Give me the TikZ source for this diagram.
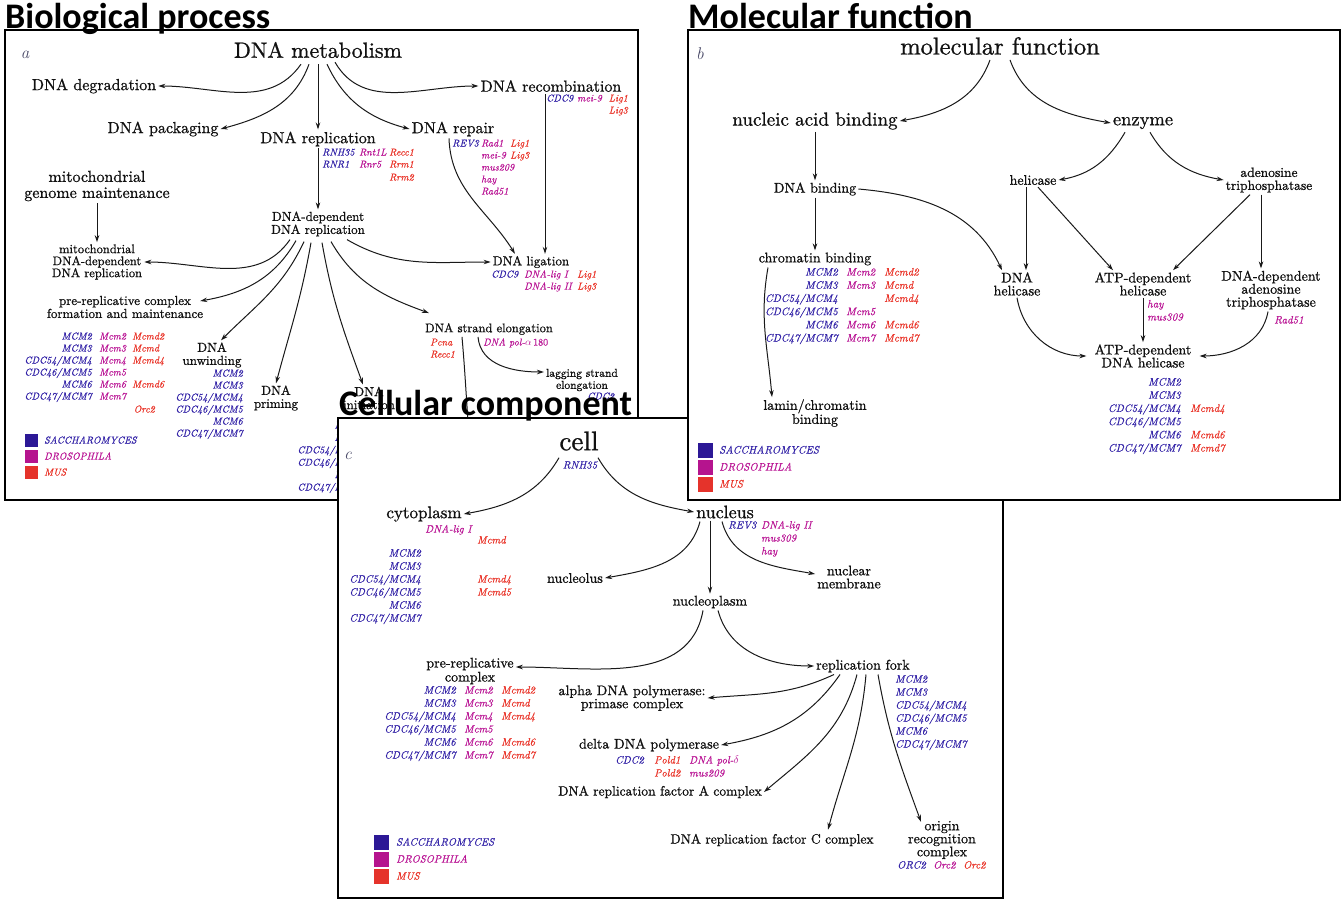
\documentclass[tikz,border=0pt]{standalone}
\usepackage{fontspec}
\newfontfamily\titlefont{Carlito}
\newfontfamily\labfont{lmroman10-regular.otf}[FakeBold=0.9]
\newfontfamily\genefont{lmroman10-italic.otf}[FakeBold=0.5]
\usetikzlibrary{arrows.meta}
\definecolor{cb}{HTML}{3424A8}
\definecolor{cm}{HTML}{BA1595}
\definecolor{cr}{HTML}{EA3328}
\definecolor{sqb}{HTML}{2C1896}
\definecolor{sqm}{HTML}{B5148E}
\definecolor{sqr}{HTML}{E5332B}
\definecolor{lbl}{HTML}{111111}
\definecolor{pletter}{HTML}{4A4A68}
\newcommand\fsz[1]{\fontsize{#1}{#1}\selectfont}
\newcommand\fss[2]{\fontsize{#1}{#2}\selectfont}
\def\gsz{10}
\tikzset{
  lbla/.style={inner sep=2pt, align=center, text=lbl, execute at begin node=\labfont},
  gene/.style={inner sep=0pt, text height=7pt, text depth=0pt, font=\fsz{\gsz}\genefont},
  gb/.style={gene, text=cb},
  gm/.style={gene, text=cm},
  gr/.style={gene, text=cr},
  arr/.style={draw=black!90, line width=1pt, -{Stealth[length=7pt,width=4.5pt]}},
  panel/.style={draw=black, line width=1.5pt, fill=white},
  ttl/.style={font=\titlefont\bfseries\fsz{36}, anchor=base west, inner sep=0pt},
  pl/.style={font=\fsz{17}\itshape, text=pletter},
  sq/.style={minimum size=#1, inner sep=0pt},
}
\begin{document}
\begin{tikzpicture}[x=1pt,y=-1pt]
\useasboundingbox (0,0) rectangle (1344,900);
\fill[white] (0,0) rectangle (1344,900);

%% ================= Panel a =================
\draw[panel] (5,30) rectangle (638,500);
\node[pl] (pa) at (25,55) {a};
\node[lbla,font=\fsz{22}] (meta) at (318,50) {DNA metabolism};
\node[lbla,font=\fsz{16}] (degr) at (94,86) {DNA degradation};
\node[lbla,font=\fsz{16}] (pack) at (163,129) {DNA packaging};
\node[lbla,font=\fsz{16}] (repl) at (318,139) {DNA replication};
\node[lbla,font=\fsz{16}] (repair) at (453,129) {DNA repair};
\node[lbla,font=\fsz{16}] (recomb) at (551,86) {DNA recombination};
\node[lbla,font=\fsz{16}] (mgm) at (97,186) {mitochondrial\\genome maintenance};
\node[lbla,font=\fss{12.5}{12}] (mddr) at (97,262) {mitochondrial\\DNA-dependent\\DNA replication};
\node[lbla,font=\fsz{13}] (ddr) at (318,224) {DNA-dependent\\DNA replication};
\node[lbla,font=\fsz{13}] (prc) at (125,307) {pre-replicative complex\\formation and maintenance};
\node[lbla,font=\fsz{13}] (lig) at (531,262) {DNA ligation};
\node[lbla,font=\fsz{12.5}] (elong) at (489,329) {DNA strand elongation};
\node[lbla,font=\fss{11.5}{12}] (lag) at (582,380) {lagging strand\\elongation};
\node[lbla,font=\fsz{13}] (unw) at (212,355) {DNA\\unwinding};
\node[lbla,font=\fsz{13}] (prim) at (276,398) {DNA\\priming};
\node[lbla,font=\fsz{13}] (init) at (369,398) {DNA\\initiation};

\draw[arr] ([xshift=-17pt,yshift=-4pt]meta.south) to[out=235,in=0] (degr.east);
\draw[arr] ([xshift=-9pt,yshift=-4pt]meta.south) to[out=250,in=15] (pack.east);
\draw[arr] ([yshift=-4pt]meta.south) -- (repl.north);
\draw[arr] ([xshift=9pt,yshift=-4pt]meta.south) to[out=295,in=165] (repair.west);
\draw[arr] ([xshift=17pt,yshift=-2pt]meta.south) to[out=300,in=180] (recomb.west);
\draw[arr] (repl.south) -- (ddr.north);
\draw[arr] (mgm.south) -- (mddr.north);
\draw[arr] ([xshift=-28pt,yshift=-1pt]ddr.south) to[out=235,in=0] (mddr.east);
\draw[arr] ([xshift=-22pt,yshift=-2pt]ddr.south) to[out=240,in=10] ([xshift=-5pt,yshift=6pt]prc.east);
\draw[arr] ([xshift=-14pt,yshift=-3pt]ddr.south) to[out=245,in=45] ([xshift=9pt]unw.north);
\draw[arr] ([xshift=-7pt,yshift=-4pt]ddr.south) to[out=260,in=75] (prim.north);
\draw[arr] ([xshift=4pt,yshift=-4pt]ddr.south) to[out=280,in=110] ([xshift=-6pt]init.north);
\draw[arr] ([xshift=13pt,yshift=-3pt]ddr.south) to[out=300,in=160] ([xshift=6pt,yshift=8pt]elong.north west);
\draw[arr] ([xshift=29pt,yshift=-1pt]ddr.south) to[out=330,in=180] (lig.west);
\draw[arr] ([xshift=-4pt]repair.south) to[out=272,in=122] ([xshift=-16pt]lig.north);
\draw[arr] ([xshift=-6pt]recomb.south) -- ([xshift=-6pt]recomb.south |- lig.north);
\coordinate (hid) at (470,445);
\draw[arr] ([xshift=-27pt]elong.south) to[out=275,in=95] (hid);
\draw[arr] ([xshift=-11pt]elong.south) to[out=275,in=180] ([yshift=8pt]lag.west);

\def\gsz{10}
% recombination
\node[gb,anchor=west] (arc1) at (546,98) {CDC9};
\node[gm,anchor=west] (arc2) at (577,98) {mei-9};
\node[gr,anchor=east] (arc3) at (628,98) {Lig1};
\node[gr,anchor=east] (arc4) at (628,110) {Lig3};
% repair
\node[gb,anchor=west] (arp1) at (452,143) {REV3};
\node[gm,anchor=west] (arp2) at (481,143) {Rad1};
\node[gr,anchor=west] (arp3) at (510,143) {Lig1};
\node[gm,anchor=west] (arp4) at (481,155) {mei-9};
\node[gr,anchor=west] (arp5) at (510,155) {Lig3};
\node[gm,anchor=west] (arp6) at (481,167) {mus209};
\node[gm,anchor=west] (arp7) at (481,179) {hay};
\node[gm,anchor=west] (arp8) at (481,191) {Rad51};
% replication
\node[gb,anchor=west] (are1) at (322,152) {RNH35};
\node[gb,anchor=west] (are2) at (322,164) {RNR1};
\node[gm,anchor=west] (are3) at (359,152) {Rnt1L};
\node[gm,anchor=west] (are4) at (359,164) {Rnr5};
\node[gr,anchor=west] (are5) at (389,152) {Recc1};
\node[gr,anchor=west] (are6) at (389,164) {Rrm1};
\node[gr,anchor=west] (are7) at (389,177) {Rrm2};
% ligation
\node[gb,anchor=west] (ali1) at (491,274) {CDC9};
\node[gm,anchor=west] (ali2) at (524,274) {DNA-lig I};
\node[gr,anchor=west] (ali3) at (577,274) {Lig1};
\node[gm,anchor=west] (ali4) at (524,286) {DNA-lig II};
\node[gr,anchor=west] (ali5) at (577,286) {Lig3};
% elongation
\node[gr,anchor=west] (ael1) at (430,342) {Pcna};
\node[gr,anchor=west] (ael2) at (430,354) {Recc1};
\node[gm,anchor=west] (ael3) at (483,342) {DNA pol-$\alpha$\,{\labfont 180}};
\node[gb,anchor=west] (ala1) at (587,396) {CDC2};
% unwinding
\foreach \gname [count=\i] in {MCM2,MCM3,CDC54/MCM4,CDC46/MCM5,MCM6,CDC47/MCM7}
  \node[gb,anchor=east] (aun\i) at (243,{373+12*(\i-1)}) {\gname};
% pre-replicative
\foreach \gname [count=\i] in {MCM2,MCM3,CDC54/MCM4,CDC46/MCM5,MCM6,CDC47/MCM7}
  \node[gb,anchor=east] (apb\i) at (92,{336+12*(\i-1)}) {\gname};
\foreach \gname [count=\i] in {Mcm2,Mcm3,Mcm4,Mcm5,Mcm6,Mcm7}
  \node[gm,anchor=west] (apm\i) at (99,{336+12*(\i-1)}) {\gname};
\foreach \gname/\i in {Mcmd2/1,Mcmd/2,Mcmd4/3,Mcmd6/5}
  \node[gr,anchor=west] (apr\i) at (132,{336+12*(\i-1)}) {\gname};
\node[gr,anchor=east] (aorc) at (155,409) {Orc2};
% initiation (mostly hidden)
\foreach \gname [count=\i] in {MCM2,MCM3,CDC54/MCM4,CDC46/MCM5,MCM6,CDC47/MCM7}
  \node[gb,anchor=east] (ain\i) at (365,{425+12.4*(\i-1)}) {\gname};
% legend a
\node[sq=13pt,fill=sqb] (las1) at (31,440) {};
\node[sq=13pt,fill=sqm] (las2) at (31,456) {};
\node[sq=13pt,fill=sqr] (las3) at (31,472) {};
\node[gb,anchor=west] (lat1) at (44,440) {SACCHAROMYCES};
\node[gm,anchor=west] (lat2) at (44,456) {DROSOPHILA};
\node[gr,anchor=west] (lat3) at (44,472) {MUS};

\node[ttl] (ta) at (5,28) {Biological process};

%% ================= Panel c =================
\draw[panel] (338,418) rectangle (1003,898);
\node[pl] (pc) at (348,456) {c};
\node[lbla,font=\fsz{27}] (cell) at (579,441) {cell};
\node[lbla,font=\fsz{17}] (cyto) at (424,514) {cytoplasm};
\node[lbla,font=\fsz{18}] (nucl) at (725,512) {nucleus};
\node[lbla,font=\fsz{14}] (nucleo) at (575,578) {nucleolus};
\node[lbla,font=\fsz{14}] (nplasm) at (710,602) {nucleoplasm};
\node[lbla,font=\fss{14}{13}] (memb) at (849,577) {nuclear\\membrane};
\node[lbla,font=\fss{14}{14}] (cprc) at (470,671) {pre-replicative\\complex};
\node[lbla,font=\fsz{14}] (fork) at (863,666) {replication fork};
\node[lbla,font=\fss{14}{13}] (alpha) at (632,698) {alpha DNA polymerase:\\primase complex};
\node[lbla,font=\fsz{14}] (delta) at (649,745) {delta DNA polymerase};
\node[lbla,font=\fsz{13.5}] (facA) at (660,792) {DNA replication factor A complex};
\node[lbla,font=\fsz{13.5}] (facC) at (772,840) {DNA replication factor C complex};
\node[lbla,font=\fss{14}{13}] (orc) at (942,840) {origin\\recognition\\complex};

\draw[arr] ([xshift=-20pt,yshift=-5pt]cell.south) to[out=240,in=10] (cyto.east);
\draw[arr] ([xshift=19pt,yshift=-5pt]cell.south) to[out=300,in=170] (nucl.west);
\draw[arr] ([xshift=-25pt,yshift=-1pt]nucl.south) to[out=255,in=10] (nucleo.east);
\draw[arr] ([xshift=-15pt]nucl.south) -- ([xshift=-15pt]nucl.south |- nplasm.north);
\draw[arr] ([xshift=-3pt,yshift=-1pt]nucl.south) to[out=285,in=170] ([yshift=3pt]memb.west);
\draw[arr] ([xshift=-7pt]nplasm.south) to[out=260,in=0] ([yshift=4pt]cprc.east);
\draw[arr] ([xshift=8pt]nplasm.south) to[out=285,in=180] (fork.west);
\draw[arr] ([xshift=-29pt]fork.south) to[out=205,in=5] (alpha.east);
\draw[arr] ([xshift=-23pt]fork.south) to[out=235,in=10] (delta.east);
\draw[arr] ([xshift=-6pt]fork.south) to[out=255,in=40] (facA.east);
\draw[arr] ([xshift=3pt]fork.south) to[out=265,in=75] ([xshift=56pt,yshift=2pt]facC.north);
\draw[arr] ([xshift=15pt]fork.south) to[out=280,in=110] ([xshift=-21pt,yshift=-3pt]orc.north);

\def\gsz{10.6}
\node[gb] (crnh) at (580,465) {RNH35};
\node[gm,anchor=west] (ccy1) at (425,529) {DNA-lig I};
\node[gr,anchor=west] (ccy2) at (477,540) {Mcmd};
\foreach \gname [count=\i] in {MCM2,MCM3,CDC54/MCM4,CDC46/MCM5,MCM6,CDC47/MCM7}
  \node[gb,anchor=east] (ccb\i) at (421,{553+13*(\i-1)}) {\gname};
\node[gr,anchor=west] (ccy3) at (477,579) {Mcmd4};
\node[gr,anchor=west] (ccy4) at (477,592) {Mcmd5};
\node[gb,anchor=west] (cnu1) at (728,525) {REV3};
\node[gm,anchor=west] (cnu2) at (761,525) {DNA-lig II};
\node[gm,anchor=west] (cnu3) at (761,538) {mus309};
\node[gm,anchor=west] (cnu4) at (761,551) {hay};
\foreach \gname [count=\i] in {MCM2,MCM3,CDC54/MCM4,CDC46/MCM5,MCM6,CDC47/MCM7}
  \node[gb,anchor=east] (cpb\i) at (456,{690+13*(\i-1)}) {\gname};
\foreach \gname [count=\i] in {Mcm2,Mcm3,Mcm4,Mcm5,Mcm6,Mcm7}
  \node[gm,anchor=west] (cpm\i) at (464,{690+13*(\i-1)}) {\gname};
\foreach \gname/\i in {Mcmd2/1,Mcmd/2,Mcmd4/3,Mcmd6/5,Mcmd7/6}
  \node[gr,anchor=west] (cpr\i) at (501,{690+13*(\i-1)}) {\gname};
\foreach \gname [count=\i] in {MCM2,MCM3,CDC54/MCM4,CDC46/MCM5,MCM6,CDC47/MCM7}
  \node[gb,anchor=west] (cfb\i) at (895,{679+13*(\i-1)}) {\gname};
\node[gb,anchor=west] (cde1) at (615,760) {CDC2};
\node[gr,anchor=west] (cde2) at (654,760) {Pold1};
\node[gm,anchor=west] (cde3) at (689,760) {DNA pol-$\delta$};
\node[gr,anchor=west] (cde4) at (654,773) {Pold2};
\node[gm,anchor=west] (cde5) at (689,773) {mus209};
\node[gb,anchor=west] (cor1) at (897,865) {ORC2};
\node[gm,anchor=west] (cor2) at (933,865) {Orc2};
\node[gr,anchor=west] (cor3) at (963,865) {Orc2};
% legend c
\node[sq=15pt,fill=sqb] (lcs1) at (381,842) {};
\node[sq=15pt,fill=sqm] (lcs2) at (381,859) {};
\node[sq=15pt,fill=sqr] (lcs3) at (381,876) {};
\node[gb,anchor=west] (lct1) at (396,842) {SACCHAROMYCES};
\node[gm,anchor=west] (lct2) at (396,859) {DROSOPHILA};
\node[gr,anchor=west] (lct3) at (396,876) {MUS};

\node[ttl] (tc) at (339,415) {Cellular component};

%% ================= Panel b =================
\draw[panel] (688,30) rectangle (1340,500);
\node[pl] (pb) at (700,54) {b};
\node[lbla,font=\fsz{24.5}] (mf) at (1000,46) {molecular function};
\node[lbla,font=\fsz{19}] (nab) at (815,121) {nucleic acid binding};
\node[lbla,font=\fsz{18.5}] (enz) at (1143,123) {enzyme};
\node[lbla,font=\fsz{14}] (dnab) at (815,189) {DNA binding};
\node[lbla,font=\fsz{14}] (hel) at (1033,180) {helicase};
\node[lbla,font=\fss{13.5}{13}] (atpase) at (1269,180) {adenosine\\triphosphatase};
\node[lbla,font=\fsz{14}] (chrb) at (815,259) {chromatin binding};
\node[lbla,font=\fss{14}{13}] (dnahel) at (1017,284) {DNA\\helicase};
\node[lbla,font=\fss{14}{13}] (atph) at (1143,284) {ATP-dependent\\helicase};
\node[lbla,font=\fss{14}{13}] (dnaatp) at (1271,290) {DNA-dependent\\adenosine\\triphosphatase};
\node[lbla,font=\fss{14}{13}] (atpdh) at (1143,356) {ATP-dependent\\DNA helicase};
\node[lbla,font=\fss{14}{14}] (lamin) at (815,413) {lamin/chromatin\\binding};

\draw[arr] ([xshift=-10pt,yshift=-3pt]mf.south) to[out=250,in=10] (nab.east);
\draw[arr] ([xshift=10pt,yshift=-3pt]mf.south) to[out=290,in=170] (enz.west);
\draw[arr] (nab.south) -- (dnab.north);
\draw[arr] (dnab.south) -- (chrb.north);
\draw[arr] (dnab.east) to[out=355,in=115] ([xshift=-15pt]dnahel.north);
\draw[arr] ([xshift=-47pt]chrb.south) to[out=260,in=95] ([xshift=-43pt]lamin.north);
\draw[arr] ([xshift=-18pt,yshift=-1pt]enz.south) to[out=240,in=10] (hel.east);
\draw[arr] ([xshift=7pt,yshift=-1pt]enz.south) to[out=300,in=170] (atpase.west);
\draw[arr] ([xshift=-7pt]hel.south) -- ([xshift=-7pt]hel.south |- dnahel.north);
\draw[arr] ([xshift=5pt]hel.south) -- ([xshift=-30pt]atph.north);
\draw[arr] ([xshift=-19pt]atpase.south) -- ([xshift=30pt]atph.north);
\draw[arr] ([xshift=-8pt]atpase.south) -- ([xshift=-8pt]atpase.south |- dnaatp.north);
\draw[arr] (atph.south) -- (atpdh.north);
\draw[arr] (dnahel.south) to[out=280,in=180] ([xshift=-6pt]atpdh.west);
\draw[arr] ([xshift=-3pt]dnaatp.south) to[out=260,in=0] ([xshift=6pt]atpdh.east);

\def\gsz{10.8}
\foreach \gname [count=\i] in {MCM2,MCM3,CDC54/MCM4,CDC46/MCM5,MCM6,CDC47/MCM7}
  \node[gb,anchor=east] (bcb\i) at (838,{272+13.2*(\i-1)}) {\gname};
\foreach \gname/\i in {Mcm2/1,Mcm3/2,Mcm5/4,Mcm6/5,Mcm7/6}
  \node[gm,anchor=west] (bcm\i) at (846,{272+13.2*(\i-1)}) {\gname};
\foreach \gname/\i in {Mcmd2/1,Mcmd/2,Mcmd4/3,Mcmd6/5,Mcmd7/6}
  \node[gr,anchor=west] (bcr\i) at (884,{272+13.2*(\i-1)}) {\gname};
\node[gm,anchor=west] (bh1) at (1147,304) {hay};
\node[gm,anchor=west] (bh2) at (1147,317) {mus309};
\node[gm,anchor=west] (bh3) at (1274,320) {Rad51};
\foreach \gname [count=\i] in {MCM2,MCM3,CDC54/MCM4,CDC46/MCM5,MCM6,CDC47/MCM7}
  \node[gb,anchor=east] (bdb\i) at (1181,{382+13.2*(\i-1)}) {\gname};
\foreach \gname/\i in {Mcmd4/3,Mcmd6/5,Mcmd7/6}
  \node[gr,anchor=west] (bdr\i) at (1190,{382+13.2*(\i-1)}) {\gname};
% legend b
\node[sq=15pt,fill=sqb] (lbs1) at (705,450) {};
\node[sq=15pt,fill=sqm] (lbs2) at (705,467) {};
\node[sq=15pt,fill=sqr] (lbs3) at (705,484) {};
\node[gb,anchor=west] (lbt1) at (719,450) {SACCHAROMYCES};
\node[gm,anchor=west] (lbt2) at (719,467) {DROSOPHILA};
\node[gr,anchor=west] (lbt3) at (719,484) {MUS};

\node[ttl] (tb) at (688,28) {Molecular function};
\end{tikzpicture}
\end{document}
